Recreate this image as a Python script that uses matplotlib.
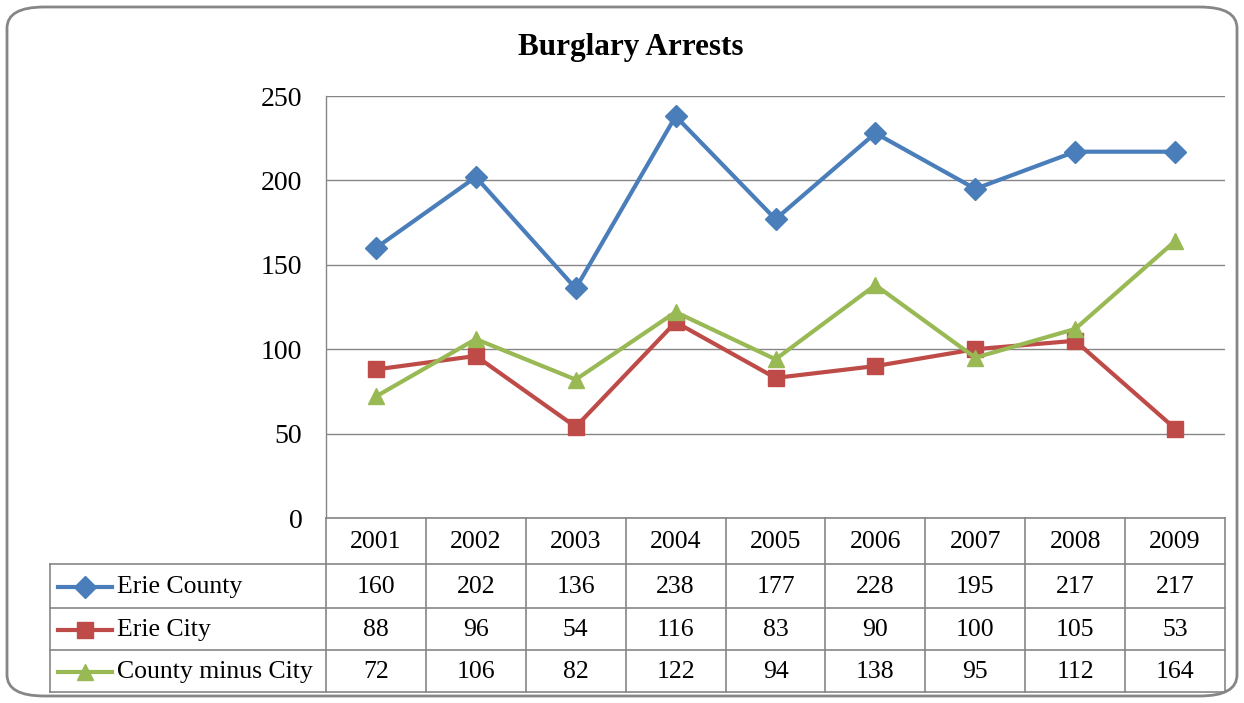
import matplotlib
matplotlib.use("Agg")
import matplotlib.pyplot as plt
from matplotlib.patches import FancyBboxPatch
from matplotlib.lines import Line2D
import matplotlib.transforms as mtransforms

plt.rcParams['font.family'] = ['Liberation Serif', 'DejaVu Serif']

years = ['2001', '2002', '2003', '2004', '2005', '2006', '2007', '2008', '2009']
erie_county = [160, 202, 136, 238, 177, 228, 195, 217, 217]
erie_city = [88, 96, 54, 116, 83, 90, 100, 105, 53]
county_minus_city = [72, 106, 82, 122, 94, 138, 95, 112, 164]

series = [
    ('Erie County', erie_county, '#4A7EBB', 'D', 11),
    ('Erie City', erie_city, '#BE4B48', 's', 11),
    ('County minus City', county_minus_city, '#98B954', '^', 12),
]

W, H = 1244, 703
fig = plt.figure(figsize=(W / 100, H / 100), dpi=100)

# rounded chart border (behind the axes)
fig.add_artist(FancyBboxPatch((7 / W, 7 / H), (W - 14) / W, (H - 14) / H,
                              boxstyle="round,pad=0,rounding_size=0.03",
                              transform=fig.transFigure, fc='white',
                              ec='#868686', lw=2, zorder=-10))

# plot area in pixels
L, R, T, B = 326, 1225, 96, 518
ax = fig.add_axes([L / W, 1 - B / H, (R - L) / W, (B - T) / H])
ax.set_facecolor('none')

x = list(range(len(years)))
for name, vals, col, mk, ms in series:
    ax.plot(x, vals, color=col, lw=3, marker=mk, ms=ms, mec=col, mfc=col)

ax.set_xlim(-0.5, len(years) - 0.5)
ax.set_ylim(0, 250)
ax.set_yticks(range(0, 251, 50))
ax.set_xticks([])
ax.tick_params(axis='y', length=0, pad=17, labelsize=20)
ax.grid(axis='y', color='#868686', lw=1)
ax.set_axisbelow(True)
for s in ['top', 'right', 'bottom']:
    ax.spines[s].set_visible(False)
ax.spines['left'].set_color('#868686')
ax.spines['left'].set_linewidth(1)

fig.text(0.507, 1 - 48 / H, 'Burglary Arrests', ha='center', va='center',
         fontsize=22.5, fontweight='bold')

# data table under the plot: x in data units, y in axes fraction
tr = mtransforms.blended_transform_factory(ax.transData, ax.transAxes)
def ya(py):
    return (B - py) / (B - T)

lc = '#868686'
row_y = [518, 564, 608, 650, 692]
legend_left = -0.5 - (L - 50) / ((R - L) / len(years))
n = len(years)
fs = 18.5

def hline(x0, x1, py):
    ax.add_line(Line2D([x0, x1], [ya(py), ya(py)], transform=tr, color=lc,
                       lw=1.2, clip_on=False))

def vline(xv, py0, py1):
    ax.add_line(Line2D([xv, xv], [ya(py0), ya(py1)], transform=tr, color=lc,
                       lw=1.2, clip_on=False))

hline(-0.5, n - 0.5, row_y[0])
for py in row_y[1:]:
    hline(legend_left, n - 0.5, py)
for i in range(n + 1):
    vline(i - 0.5, row_y[0], row_y[-1])
vline(legend_left, row_y[1], row_y[-1])

for i, yr in enumerate(years):
    ax.text(i, ya((row_y[0] + row_y[1]) / 2 + 1), yr, transform=tr,
            ha='center', va='center', fontsize=fs)

for r, (name, vals, col, mk, ms) in enumerate(series):
    yc = ya((row_y[r + 1] + row_y[r + 2]) / 2 + 1)
    for i, v in enumerate(vals):
        ax.text(i, yc, str(v), transform=tr, ha='center', va='center',
                fontsize=fs)
    # legend key
    x0 = legend_left + 0.08
    x1 = legend_left + 0.62
    ax.add_line(Line2D([x0, x1], [yc, yc], transform=tr, color=col, lw=3,
                       clip_on=False))
    ax.add_line(Line2D([(x0 + x1) / 2], [yc], transform=tr, color=col,
                       marker=mk, ms=ms, mfc=col, mec=col, clip_on=False))
    ax.text(legend_left + 0.67, yc, name, transform=tr, ha='left',
            va='center', fontsize=fs)

fig.savefig('out.png', dpi=100)
